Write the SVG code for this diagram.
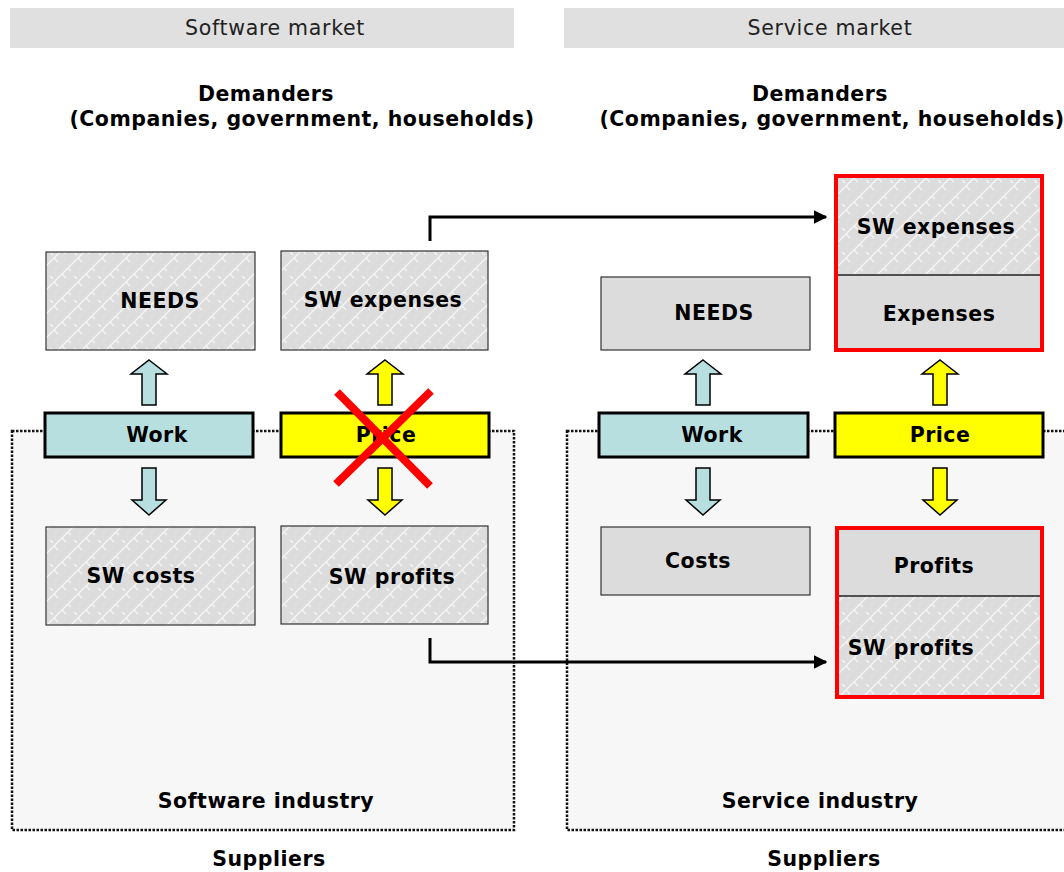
<svg xmlns="http://www.w3.org/2000/svg" xmlns:xlink="http://www.w3.org/1999/xlink" width="1064" height="872" viewBox="0 0 1064 872">
<style>
text{font-family:"DejaVu Sans","Verdana",sans-serif;fill:#000;text-anchor:middle;dominant-baseline:central}
.b{font-weight:bold;font-size:20.5px;letter-spacing:0.5px}
.h{font-size:20.5px;fill:#222;letter-spacing:0.7px}
.hdr{fill:#e0e0e0}
.ind{fill:#f7f7f7;stroke:#111;stroke-width:2.5;stroke-dasharray:2.5 1.5}
.pat{fill:url(#hatch);stroke:#333;stroke-width:1.2}
.gray{fill:#dcdcdc;stroke:#333;stroke-width:1.2}
.work{fill:#b8dfe0;stroke:#000;stroke-width:3}
.price{fill:#ffff00;stroke:#000;stroke-width:3}
.red{fill:none;stroke:#ff0000;stroke-width:4}
.conn{fill:none;stroke:#000;stroke-width:3}
.ax{fill:none;stroke:#ff0000;stroke-width:8}
.ab{fill:#b8dfe0;stroke:#000;stroke-width:1.5}
.ay{fill:#ffff00;stroke:#000;stroke-width:1.5}
</style>
<defs>
<pattern id="hatch" width="24" height="24" patternUnits="userSpaceOnUse">
<rect width="24" height="24" fill="#dcdcdc"/>
<path d="M0 24 L24 0 M-6 6 L6 -6 M18 30 L30 18" stroke="#f4f4f4" stroke-width="1.5"/>
<path d="M6 18 L10 22 M14 10 L18 14 M20 4 L23 7 M2 12 L5 15" stroke="#f4f4f4" stroke-width="1.3"/>
</pattern>
<marker id="ah" viewBox="0 0 10 10" refX="9" refY="5" markerWidth="4.5" markerHeight="4.5" orient="auto" markerUnits="strokeWidth">
<path d="M0 0 L10 5 L0 10 z" fill="#000"/>
</marker>
<path id="up" d="M0 0 L18 14 L7 14 L7 45 L-7 45 L-7 14 L-18 14 Z"/>
<path id="dn" d="M-7 0 L7 0 L7 32 L17 32 L0 47 L-17 32 L-7 32 Z"/>
</defs>

<g id="header-software"><rect class="hdr" x="10" y="8" width="504" height="40"/><text class="h" x="275" y="28">Software market</text></g>
<g id="header-service"><rect class="hdr" x="564" y="8" width="500" height="40"/><text class="h" x="830" y="28">Service market</text></g>

<g id="demanders-left"><text class="b" x="266" y="94">Demanders</text><text class="b" x="302" y="119">(Companies, government, households)</text></g>
<g id="demanders-right"><text class="b" x="820" y="94">Demanders</text><text class="b" x="832" y="119">(Companies, government, households)</text></g>

<g id="software-industry"><rect class="ind" x="12" y="431" width="502" height="399"/><text class="b" x="266" y="801">Software industry</text></g>
<g id="service-industry"><rect class="ind" x="567" y="431" width="510" height="399"/><text class="b" x="820" y="801">Service industry</text></g>

<g id="suppliers-left"><text class="b" x="269" y="859">Suppliers</text></g>
<g id="suppliers-right"><text class="b" x="824" y="859">Suppliers</text></g>

<g id="connectors">
<polyline class="conn" points="430,241 430,217 826,217" marker-end="url(#ah)"/>
<polyline class="conn" points="430,638 430,662 826,662" marker-end="url(#ah)"/>
<use href="#up" class="ab" x="149" y="360"/>
<use href="#dn" class="ab" x="149" y="468"/>
<use href="#up" class="ay" x="385" y="360"/>
<use href="#dn" class="ay" x="385" y="468"/>
<use href="#up" class="ab" x="703" y="360"/>
<use href="#dn" class="ab" x="703" y="468"/>
<use href="#up" class="ay" x="940" y="360"/>
<use href="#dn" class="ay" x="940" y="468"/>
</g>

<g id="needs-left"><rect class="pat" x="46" y="252" width="209" height="98"/><text class="b" x="160" y="301">NEEDS</text></g>
<g id="sw-expenses-left"><rect class="pat" x="281" y="251" width="207" height="99"/><text class="b" x="383" y="300">SW expenses</text></g>
<g id="work-left"><rect class="work" x="45" y="413" width="208" height="44"/><text class="b" x="157" y="435">Work</text></g>
<g id="price-left"><rect class="price" x="281" y="413" width="208" height="44"/><text class="b" x="386" y="435">Price</text></g>
<g id="sw-costs-left"><rect class="pat" x="46" y="527" width="209" height="98"/><text class="b" x="141" y="576">SW costs</text></g>
<g id="sw-profits-left"><rect class="pat" x="281" y="526" width="207" height="98"/><text class="b" x="392" y="577">SW profits</text></g>
<g id="cross"><line class="ax" x1="337" y1="392" x2="430" y2="486"/><line class="ax" x1="431" y1="391" x2="336" y2="484"/></g>

<g id="needs-right"><rect class="gray" x="601" y="277" width="209" height="73"/><text class="b" x="714" y="313">NEEDS</text></g>
<g id="costs-right"><rect class="gray" x="601" y="527" width="209" height="68"/><text class="b" x="698" y="561">Costs</text></g>
<g id="work-right"><rect class="work" x="599" y="413" width="209" height="44"/><text class="b" x="712" y="435">Work</text></g>
<g id="price-right"><rect class="price" x="835" y="413" width="208" height="44"/><text class="b" x="940" y="435">Price</text></g>

<g id="expenses-right">
<rect x="836" y="176" width="206" height="99" fill="url(#hatch)"/>
<rect x="836" y="275" width="206" height="74" fill="#dcdcdc"/>
<line x1="836" y1="275" x2="1042" y2="275" stroke="#222" stroke-width="1.3"/>
<rect class="red" x="836" y="176" width="206" height="174"/>
<text class="b" x="936" y="227">SW expenses</text>
<text class="b" x="939" y="314">Expenses</text>
</g>
<g id="profits-right">
<rect x="837" y="528" width="205" height="68" fill="#dcdcdc"/>
<rect x="837" y="596" width="205" height="100" fill="url(#hatch)"/>
<line x1="837" y1="596" x2="1042" y2="596" stroke="#222" stroke-width="1.3"/>
<rect class="red" x="837" y="528" width="205" height="169"/>
<text class="b" x="934" y="566">Profits</text>
<text class="b" x="911" y="648">SW profits</text>
</g>
</svg>
